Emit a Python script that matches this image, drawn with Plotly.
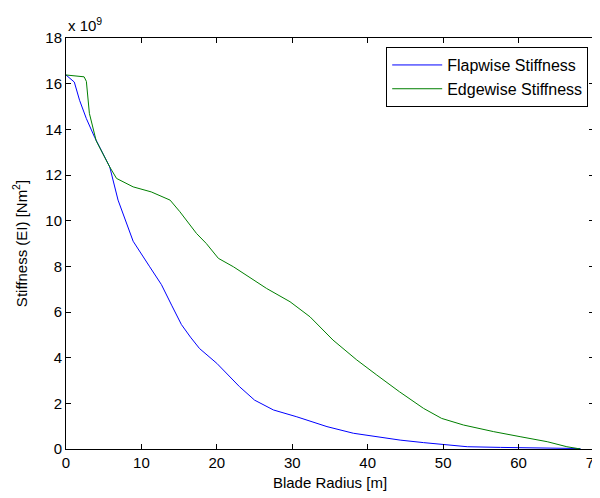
import plotly.graph_objects as go

# Blade radius [m] and stiffness values in units of 1e9 N m^2
radius_flap = [0, 1.1, 1.8, 2.7, 3.8, 5.8, 6.9, 8.9, 11.1, 12.65, 14.0, 15.3, 16.5,
               17.7, 20.0, 23.0, 25.0, 27.5, 30.6, 34.6, 38.1, 41.2, 44.3, 47.4,
               50.5, 53.2, 57.6, 62.0, 68.2]
flap_stiffness = [16.38, 16.07, 15.27, 14.47, 13.65, 12.35, 10.9, 9.1, 7.98, 7.2,
                  6.3, 5.45, 4.9, 4.4, 3.75, 2.73, 2.14, 1.71, 1.41, 0.98, 0.69,
                  0.54, 0.39, 0.28, 0.18, 0.1, 0.07, 0.04, 0.02]

radius_edge = [0, 2.4, 2.7, 3.1, 4.0, 5.8, 6.7, 7.55, 8.9, 11.3, 13.8, 15.1, 17.3,
               18.6, 20.2, 22.2, 23.5, 26.6, 29.7, 32.35, 35.4, 38.55, 41.2, 44.2,
               47.4, 49.8, 52.7, 56.7, 60.2, 63.8, 66.4, 68.2]
edge_stiffness = [16.38, 16.3, 16.1, 14.7, 13.5, 12.35, 11.85, 11.7, 11.48, 11.26,
                  10.9, 10.39, 9.44, 9.0, 8.35, 7.98, 7.69, 7.03, 6.45, 5.79, 4.77,
                  3.9, 3.24, 2.51, 1.78, 1.34, 1.05, 0.76, 0.54, 0.32, 0.1, 0.0]

series_names = ["Flapwise Stiffness", "Edgewise Stiffness"]
x_ticks = [0, 10, 20, 30, 40, 50, 60, 70]
y_ticks = [0, 2, 4, 6, 8, 10, 12, 14, 16, 18]

FONT = "Liberation Sans, Arial, sans-serif"
FS = 15

fig = go.Figure()
fig.add_trace(go.Scatter(x=radius_flap, y=flap_stiffness, mode="lines",
                         name=series_names[0],
                         line=dict(color="#0000ff", width=1)))
fig.add_trace(go.Scatter(x=radius_edge, y=edge_stiffness, mode="lines",
                         name=series_names[1],
                         line=dict(color="#007f00", width=1)))

axis_common = dict(showline=True, linecolor="black", linewidth=1, mirror="ticks",
                   ticks="inside", ticklen=5, tickcolor="black", showgrid=False,
                   zeroline=False, automargin=False, ticklabeloverflow="allow",
                   tickfont=dict(family=FONT, size=FS, color="black"))

fig.update_xaxes(range=[0, 70], tickvals=x_ticks, ticktext=[str(v) for v in x_ticks],
                 title=dict(text="Blade Radius [m]", standoff=7,
                            font=dict(family=FONT, size=FS, color="black")),
                 **axis_common)
fig.update_yaxes(range=[0, 18], tickvals=y_ticks, ticktext=[str(v) for v in y_ticks],
                 title=dict(text="Stiffness (EI) [Nm<sup>2</sup>]", standoff=14,
                            font=dict(family=FONT, size=FS, color="black")),
                 **axis_common)

fig.add_annotation(x=0, y=1, xref="paper", yref="paper", xanchor="left", yanchor="bottom",
                   yshift=2, showarrow=False, text="x 10<sup>9</sup>",
                   font=dict(family=FONT, size=FS, color="black"))

fig.update_layout(
    width=592, height=490,
    margin=dict(l=58, r=6, t=30, b=49),
    paper_bgcolor="white", plot_bgcolor="white",
    font=dict(family=FONT, size=FS, color="black"),
    legend=dict(x=0.989, y=0.978, xanchor="right", yanchor="top",
                bordercolor="black", borderwidth=1, bgcolor="white",
                font=dict(family=FONT, size=16, color="black"),
                tracegroupgap=0, itemwidth=50),
    showlegend=True,
)

fig.write_html("out.html")
